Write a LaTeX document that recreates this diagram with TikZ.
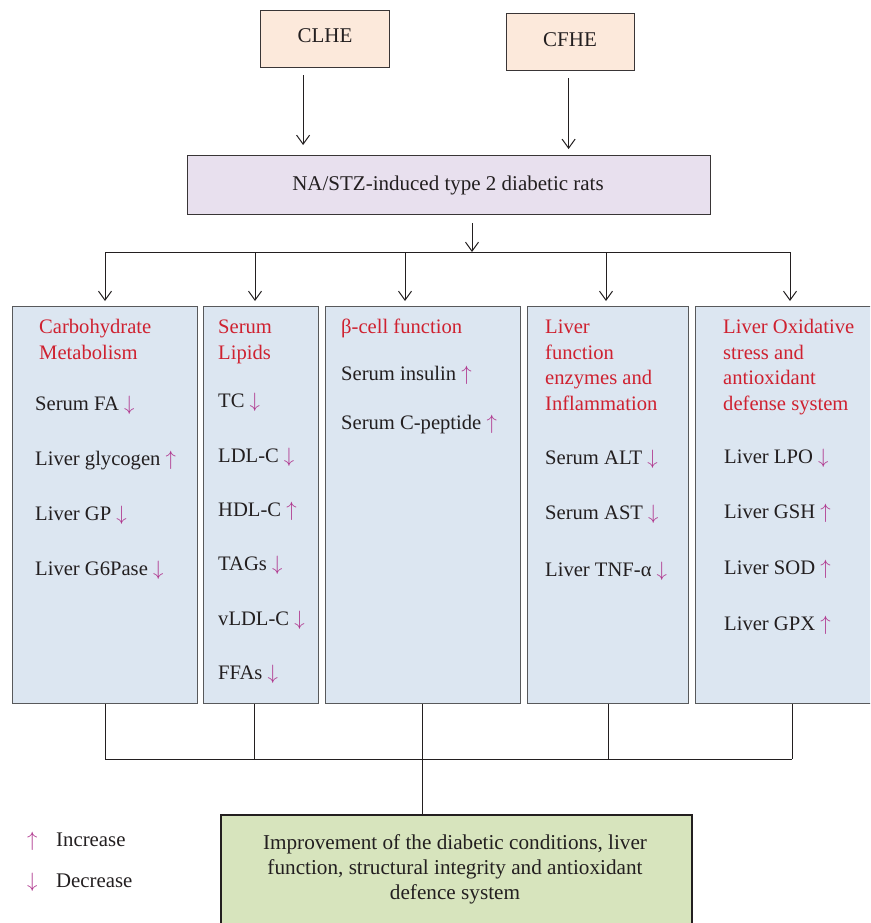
\documentclass[tikz,border=0pt]{standalone}
\usepackage{fontspec}
\setmainfont{Liberation Serif}
\usetikzlibrary{arrows.meta}
\definecolor{peach}{HTML}{FCE9DB}
\definecolor{lavender}{HTML}{E8E0EE}
\definecolor{boxfill}{HTML}{DCE6F1}
\definecolor{greenfill}{HTML}{D7E4BD}
\definecolor{titlered}{HTML}{CF2130}
\definecolor{arrcol}{HTML}{B0378E}
\definecolor{txt}{HTML}{231F20}
\definecolor{boxline}{HTML}{58595B}
\newcommand\fsz{\fontsize{20.6}{24}\selectfont}
\newcommand\fst{\fontsize{21}{25}\selectfont}
\newcommand\incr{\textcolor{arrcol}{$\uparrow$}}
\newcommand\decr{\textcolor{arrcol}{$\downarrow$}}
\tikzset{
  box/.style={draw=boxline, fill=boxfill, line width=1.3pt, anchor=north west, inner sep=0pt},
  topbox/.style={draw=txt!90, line width=1.2pt, anchor=north west, inner sep=0pt},
  ttl/.style={anchor=base west, inner sep=0pt, text=titlered, font=\fsz},
  itm/.style={anchor=base west, inner sep=0pt, text=txt, font=\fsz},
  toptxt/.style={anchor=base, inner sep=0pt, text=txt, font=\fst},
  conn/.style={draw=txt, line width=1pt},
  arr/.style={conn, -{Straight Barb[length=9pt,width=13pt]}}
}
\begin{document}
\begin{tikzpicture}[x=1pt,y=-1pt]
\clip (0,0) rectangle (870,923);
\fill[white] (0,0) rectangle (870,923);
% top boxes
\node[topbox, fill=peach, minimum width=129pt, minimum height=57pt] (clhe) at (260,10) {};
\node[toptxt] (clhet) at (325,43) {CLHE};
\node[topbox, fill=peach, minimum width=128pt, minimum height=57pt] (cfhe) at (506,13) {};
\node[toptxt] (cfhet) at (570,47) {CFHE};
\node[topbox, fill=lavender, minimum width=523pt, minimum height=59pt] (na) at (187,155) {};
\node[toptxt] (nat) at (448,190) {NA/STZ-induced type 2 diabetic rats};
% category boxes
\node[box, minimum width=185pt, minimum height=397pt] (b1) at (12,306) {};
\node[box, minimum width=115pt, minimum height=397pt] (b2) at (203,306) {};
\node[box, minimum width=195pt, minimum height=397pt] (b3) at (325,306) {};
\node[box, minimum width=161pt, minimum height=397pt] (b4) at (527,306) {};
\node[box, minimum width=190pt, minimum height=397pt] (b5) at (695,306) {};
% box 1
\foreach \t/\y [count=\i] in {Carbohydrate/333, Metabolism/359}
  \node[ttl] (b1t\i) at (39,\y) {\t};
\foreach \t/\y [count=\i] in {{Serum FA \decr}/410, {Liver glycogen \incr}/465, {Liver GP \decr}/520, {Liver G6Pase \decr}/575}
  \node[itm] (b1i\i) at (35,\y) {\t};
% box 2
\foreach \t/\y [count=\i] in {Serum/333, Lipids/359}
  \node[ttl] (b2t\i) at (218,\y) {\t};
\foreach \t/\y [count=\i] in {{TC \decr}/407, {LDL-C \decr}/462, {HDL-C \incr}/516, {TAGs \decr}/570, {vLDL-C \decr}/625, {FFAs \decr}/679}
  \node[itm] (b2i\i) at (218,\y) {\t};
% box 3
\node[ttl] (b3t1) at (341,333) {β-cell function};
\foreach \t/\y [count=\i] in {{Serum insulin \incr}/380, {Serum C-peptide \incr}/429}
  \node[itm] (b3i\i) at (341,\y) {\t};
% box 4
\foreach \t/\y [count=\i] in {Liver/333, function/359, {enzymes and}/384, Inflammation/410}
  \node[ttl] (b4t\i) at (545,\y) {\t};
\foreach \t/\y [count=\i] in {{Serum ALT \decr}/464, {Serum AST \decr}/519, {Liver TNF-α \decr}/576}
  \node[itm] (b4i\i) at (545,\y) {\t};
% box 5
\foreach \t/\y [count=\i] in {{Liver Oxidative}/333, {stress and}/359, antioxidant/384, {defense system}/410}
  \node[ttl] (b5t\i) at (723,\y) {\t};
\foreach \t/\y [count=\i] in {{Liver LPO \decr}/463, {Liver GSH \incr}/518, {Liver SOD \incr}/574, {Liver GPX \incr}/630}
  \node[itm] (b5i\i) at (724,\y) {\t};
% result box
\node[anchor=north west, draw=txt, line width=2.4pt, fill=greenfill, minimum width=471pt, minimum height=140pt, inner sep=0pt] (res) at (220,814) {};
\foreach \t/\y [count=\i] in {{Improvement of the diabetic conditions, liver}/849, {function, structural integrity and antioxidant}/874, {defence system}/899}
  \node[anchor=base, inner sep=0pt, text=txt, font=\fontsize{21.2}{24}\selectfont] (rest\i) at (455,\y) {\t};
% legend
\node[anchor=base west, inner sep=0pt, font=\fsz] (lgu) at (27,846) {\incr};
\node[anchor=base west, inner sep=0pt, text=txt, font=\fontsize{20.8}{24}\selectfont] (lgut) at (56,846) {Increase};
\node[anchor=base west, inner sep=0pt, font=\fsz] (lgd) at (27,887) {\decr};
\node[anchor=base west, inner sep=0pt, text=txt, font=\fontsize{20.8}{24}\selectfont] (lgdt) at (56,887) {Decrease};
% connectors top
\draw[arr, shorten <=7pt, shorten >=10pt] ([xshift=-22pt]clhe.south) -- ([xshift=-22pt]clhe.south |- na.north);
\draw[arr, shorten <=7pt, shorten >=6pt] ([xshift=-2pt]cfhe.south) -- ([xshift=-2pt]cfhe.south |- na.north);
\coordinate (busT) at (472,252);
\draw[arr, shorten <=8pt] (busT |- na.south) -- (busT);
\coordinate (dT1) at (105,252);
\coordinate (dT2) at (255,252);
\coordinate (dT3) at (405,252);
\coordinate (dT4) at (606,252);
\coordinate (dT5) at (790,252);
\draw[conn] (dT1) -- (dT5);
\foreach \k in {1,...,5}
  \draw[arr, shorten >=5pt] (dT\k) -- (dT\k |- b\k.north);
% connectors bottom
\coordinate (dB1) at (105,759);
\coordinate (dB2) at (254,759);
\coordinate (dB3) at (422,759);
\coordinate (dB4) at (608,759);
\coordinate (dB5) at (792,759);
\foreach \k in {1,...,5}
  \draw[conn] (dB\k |- b\k.south) -- (dB\k);
\draw[conn] (dB1) -- (dB5);
\draw[conn] (dB3) -- (dB3 |- res.north);
\end{tikzpicture}
\end{document}
